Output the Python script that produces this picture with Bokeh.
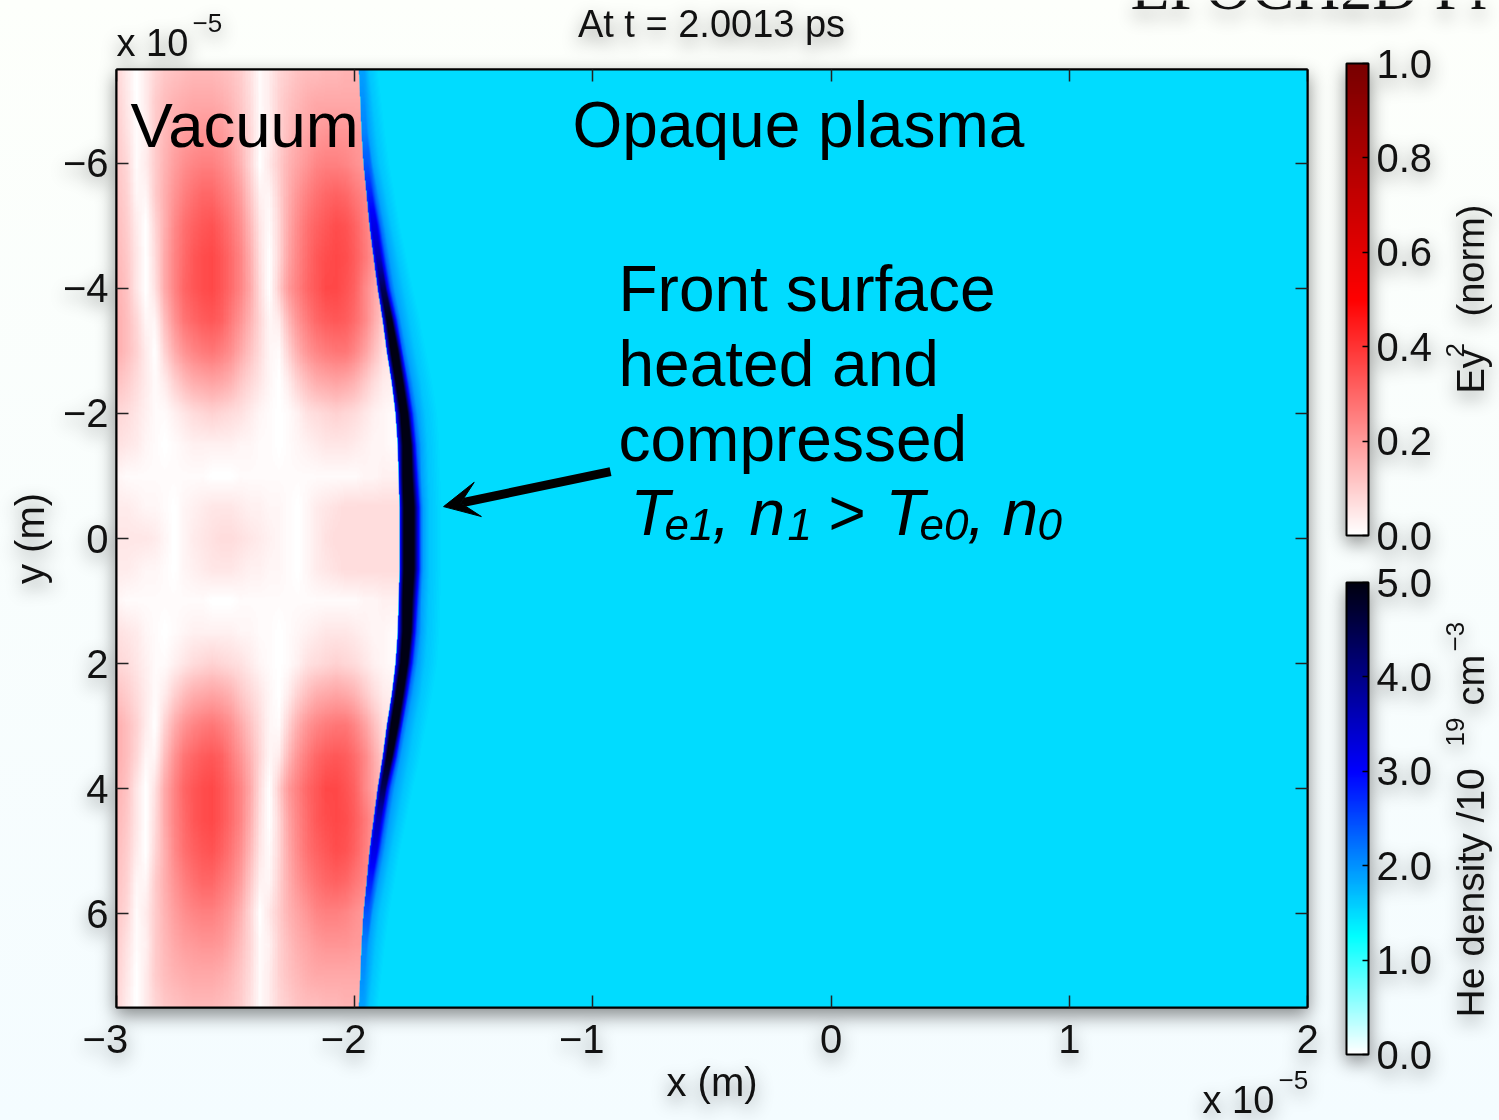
import numpy as np
from bokeh.plotting import figure
from bokeh.embed import file_html
from bokeh.resources import INLINE
from bokeh.core.properties import value
from bokeh.layouts import column
from bokeh.models import (Range1d, FixedTicker, LinearAxis, LinearColorMapper, ColorBar,
                          Arrow, VeeHead)

# ---- data (x in 1e-5 m, y in 1e-5 m) ----
x_ticks = [-3, -2, -1, 0, 1, 2]
y_ticks = [-6, -4, -2, 0, 2, 4, 6]
x_tick_labels = {-3: "\u22123\u2007", -2: "\u22122\u2007", -1: "\u22121\u2007", 0: "0", 1: "1", 2: "2"}
y_tick_labels = {-6: "\u22126", -4: "\u22124", -2: "\u22122", 0: "0", 2: "2", 4: "4", 6: "6"}

# Ey^2 (percent of norm), half field: rows y = -7.5 ... 0, step 0.5;
# columns x = -3.0 ... -1.8, step 0.04
ey2_top_half = [
    [8,4,0,4,8,11,12,13,14,14,14,13,12,10,6,1,4,8,10,12,13,13,14,14,15,15,15,15,15,15,15],
    [9,5,0,4,10,13,15,16,17,17,17,16,14,11,7,1,4,9,12,14,16,17,17,17,17,17,17,17,17,17,17],
    [10,6,1,3,10,14,17,19,20,21,21,20,17,13,8,1,3,9,13,16,18,20,21,21,21,20,20,20,20,20,20],
    [11,8,1,4,10,15,19,22,24,25,25,23,20,15,8,0,5,10,15,18,21,24,25,25,24,22,20,20,20,20,20],
    [12,9,2,2,10,16,21,25,28,30,30,27,24,19,11,3,2,9,16,21,25,28,30,31,30,27,24,20,18,18,18],
    [13,10,4,0,8,16,23,28,31,33,34,31,27,22,14,5,1,8,17,23,28,31,33,35,34,31,26,20,15,14,14],
    [14,11,5,0,7,17,24,29,33,35,36,33,29,24,16,6,0,8,18,24,29,33,35,36,35,32,27,21,14,12,12],
    [15,12,5,0,6,17,24,30,33,35,36,33,29,24,17,7,0,10,20,25,30,33,36,36,34,31,24,18,12,8,8],
    [16,13,8,2,2,13,21,27,30,32,33,31,26,21,15,8,2,4,14,21,26,30,32,33,32,29,24,17,10,6,6],
    [16,13,9,4,0,9,16,21,24,26,27,25,22,17,12,7,2,1,9,16,21,24,26,27,27,24,19,13,7,5,5],
    [12,10,7,4,1,4,9,13,16,17,18,17,15,11,8,5,2,0,4,9,13,16,17,18,17,15,11,7,4,3,3],
    [8,7,5,3,1,1,3,5,7,8,9,8,7,6,4,2,1,0,1,3,6,7,8,9,8,7,5,3,2,1,1],
    [6,5,4,2,1,0,1,2,3,3,3,3,3,2,2,1,1,0,1,2,3,4,5,5,5,4,3,2,2,1,1],
    [2,1,1,1,1,1,1,1,1,1,0,0,0,1,1,1,1,1,1,1,1,1,1,1,1,1,2,2,3,3,3],
    [4,4,3,2,2,1,0,2,3,4,5,5,5,4,3,3,2,2,1,0,2,4,5,6,7,7,7,7,7,7,7],
    [5,5,5,5,4,2,0,2,4,5,6,7,7,6,5,4,3,2,1,0,2,4,6,7,7,7,7,7,7,7,7],
]

# plasma front, half profile at y = -7.5 ... 0
front_y_half = [-7.5,-7,-6.5,-6,-5.5,-5,-4.5,-4,-3.5,-3,-2.5,-2,-1.5,-1,-0.5,0]
front_edge = [-1.982,-1.976,-1.971,-1.963,-1.950,-1.938,-1.921,-1.904,-1.883,-1.866,-1.845,-1.829,-1.820,-1.816,-1.812,-1.812]
# density profile behind the front: depth (1e-5 m) from the front edge at which the density
# reaches a given level, per row of front_y_half
front_peak     = [1.9,2.0,2.1,2.4,2.8,3.2,3.6,4.4,4.95,4.95,4.95,4.95,4.95,4.95,4.95,4.95]
depth_peak_in  = [.006,.006,.006,.008,.008,.010,.012,.014,.017,.017,.017,.021,.021,.017,.017,.017]
depth_peak_out = [.006,.006,.006,.010,.018,.025,.029,.032,.038,.046,.046,.050,.055,.055,.059,.059]
depth_32       = [.008,.010,.012,.016,.022,.030,.034,.040,.050,.059,.059,.063,.067,.071,.076,.076]
depth_23       = [.012,.015,.020,.028,.034,.046,.050,.055,.063,.067,.071,.076,.080,.084,.088,.088]
depth_19       = [.021,.025,.029,.038,.050,.063,.067,.071,.076,.084,.088,.092,.097,.097,.101,.101]
depth_165      = [.042,.050,.059,.067,.080,.092,.101,.109,.113,.118,.122,.126,.126,.126,.126,.126]
depth_plasma   = [.080,.090,.100,.110,.120,.130,.140,.150,.160,.170,.175,.180,.180,.180,.180,.180]
front_start_density = 2.6
plasma_density = 1.49

ey2_ticks = [0.0, 0.2, 0.4, 0.6, 0.8, 1.0]
he_ticks = [0.0, 1.0, 2.0, 3.0, 4.0, 5.0]
ey2_anchor_pos = [0, .5, 1]
ey2_anchor_rgb = [(255,255,255), (255,0,0), (120,0,0)]
he_anchor_pos = [0, 1.25, 3, 5]
he_anchor_rgb = [(255,255,255), (0,255,255), (0,0,255), (0,0,16)]


def palette(pos, rgb, n=256):
    t = np.linspace(pos[0], pos[-1], n)
    a = np.array(rgb, float)
    ch = [np.interp(t, pos, a[:, i]) for i in range(3)]
    return ["#%02x%02x%02x" % (int(r), int(g), int(b)) for r, g, b in zip(*ch)]


def shaded(grid, fy, fx):
    """Display-only interpolated shading of the read grid (the reference is drawn that way too)."""
    g = np.asarray(grid, float)
    ny, nx = g.shape
    yi, xi = np.linspace(0, ny - 1, (ny - 1) * fy + 1), np.linspace(0, nx - 1, (nx - 1) * fx + 1)
    g = np.array([np.interp(yi, np.arange(ny), g[:, j]) for j in range(nx)]).T
    return np.array([np.interp(xi, np.arange(nx), g[i, :]) for i in range(len(yi))])


W, H = 1499, 1120
FRAME_LEFT, FRAME_BOTTOM = 116, 1007
FONT = "Liberation Sans"
ey2_map = LinearColorMapper(palette=palette(ey2_anchor_pos, ey2_anchor_rgb), low=0, high=1)
he_map = LinearColorMapper(palette=palette(he_anchor_pos, he_anchor_rgb), low=0, high=5)
he_field_map = LinearColorMapper(palette=he_map.palette, low=0, high=5, nan_color=(0, 0, 0, 0))


def he_color(d):
    return he_map.palette[min(255, int(d / 5 * 256))]


p = figure(width=W, height=H, output_backend="svg", toolbar_location=None,
           x_range=Range1d(-3, 2), y_range=Range1d(7.5, -7.5), frame_align=False,
           min_border_left=FRAME_LEFT, min_border_right=W - 1307, min_border_top=69, min_border_bottom=H - FRAME_BOTTOM,
           x_axis_label="x (m)", y_axis_label="y (m)")
p.border_fill_color = None
p.background_fill_color = "white"
p.grid.visible = False
p.outline_line_color = "black"
p.outline_line_width = 2

for ax, ticks, labels in ((p.xaxis[0], x_ticks, x_tick_labels), (p.yaxis[0], y_ticks, y_tick_labels)):
    ax.ticker = FixedTicker(ticks=ticks)
    ax.major_label_overrides = labels
    ax.major_tick_in = 12
    ax.major_tick_out = 0
    ax.minor_tick_in = 0
    ax.minor_tick_out = 0
    ax.major_tick_line_width = 1.5
    ax.major_tick_line_color = "#222222"
    ax.axis_line_width = 2
    ax.major_label_text_font = FONT
    ax.major_label_text_font_size = "40px"
    ax.major_label_text_color = "#111111"
    ax.axis_label_text_font = FONT
    ax.axis_label_text_font_size = "40px"
    ax.axis_label_text_font_style = "normal"
    ax.axis_label_text_color = "#111111"
p.xaxis[0].major_label_standoff = 9
p.xaxis[0].axis_label_standoff = -4
p.yaxis[0].major_label_standoff = 8
p.yaxis[0].axis_label_standoff = 8

for side, ticks in (("above", x_ticks), ("right", y_ticks)):
    ax = LinearAxis(ticker=FixedTicker(ticks=ticks), major_label_overrides={t: "" for t in ticks},
                    major_tick_in=12, major_tick_out=0, minor_tick_in=0, minor_tick_out=0,
                    major_tick_line_width=1.5, major_tick_line_color="#222222",
                    axis_line_width=2, major_label_standoff=0)
    p.add_layout(ax, side)

# Ey^2 field
ey2 = np.array(ey2_top_half + ey2_top_half[-2::-1], float) / 100
p.image(image=[shaded(ey2, 16, 6)], x=-3.0, y=-7.5, dw=30 * .04, dh=30 * .5, color_mapper=ey2_map)


# He density field: plasma and compressed layer
def mirror(a):
    return np.array(a + a[-2::-1], float)


front_y = np.array(front_y_half + [-v for v in front_y_half[-2::-1]])
edge = mirror(front_edge)
p.harea(x1=edge, x2=[2] * len(edge), y=front_y, fill_color=he_color(plasma_density))

field_x = np.linspace(-2.0, -1.55, 216)
field_y = np.linspace(-7.5, 7.5, 939)
depths = np.array([mirror(a) for a in (depth_peak_in, depth_peak_out, depth_32, depth_23, depth_19, depth_165, depth_plasma)])
peak = mirror(front_peak)
field = np.full((len(field_y), len(field_x)), np.nan)
for i, yy in enumerate(field_y):
    e = np.interp(yy, front_y, edge)
    pk = np.interp(yy, front_y, peak)
    d = [np.interp(yy, front_y, row) for row in depths]
    knots = [0] + d
    levels = [min(front_start_density, pk), pk, pk, min(pk, 3.2), min(pk, 2.3), min(pk, 1.9), min(pk, 1.65), plasma_density]
    depth = field_x - e
    vals = np.interp(depth, knots, levels)
    vals[depth < 0] = np.nan
    field[i] = vals
p.image(image=[field], x=-2.0, y=-7.5, dw=.45, dh=15, color_mapper=he_field_map)

# arrow
p.add_layout(Arrow(x_start=-0.926, y_start=-1.07, x_end=-1.627, y_end=-0.51,
                   line_color="black", line_width=9,
                   end=VeeHead(size=35, fill_color="black", line_color="black", line_width=1)))

# colour bars
for mapper, ticks, loc in ((ey2_map, ey2_ticks, (1230, 472)), (he_map, he_ticks, (1230, -47))):
    cb = ColorBar(color_mapper=mapper, ticker=FixedTicker(ticks=ticks),
                  major_label_overrides={t: "%.1f" % t for t in ticks},
                  location=loc, width=22, height=472, padding=0, margin=0,
                  bar_line_color="black", bar_line_width=2,
                  major_tick_in=6, major_tick_out=0, major_tick_line_color="black", major_tick_line_width=1.5,
                  minor_tick_line_color=None, label_standoff=8,
                  major_label_text_font=FONT, major_label_text_font_size="40px",
                  major_label_text_color="#111111", background_fill_color=None, border_line_color=None)
    p.add_layout(cb, "center")

# text layer: a transparent figure over the whole page, in page pixels
ov = figure(width=W, height=H, output_backend="svg", toolbar_location=None,
            x_range=Range1d(0, W), y_range=Range1d(H, 0), min_border=0, frame_align=False,
            x_axis_location=None, y_axis_location=None,
            styles={"position": "absolute", "left": "0px", "top": "0px"})
ov.border_fill_color = None
ov.background_fill_color = None
ov.outline_line_color = None
ov.grid.visible = False

BASE = 0.385


def lab(text, px, py, size, angle=0, align="left", style="normal", font=FONT, color="#111111"):
    dx, dy = (-BASE * size, 0) if angle else (0, -BASE * size)
    ov.text(x=[px + dx], y=[py + dy], text=[text], text_font=value(font), text_font_size=value(f"{size}px"),
            text_font_style=style, text_color=color, text_align=align, text_baseline="alphabetic",
            angle=angle, angle_units="deg")


lab("EPOCH2D Pr", 1130, 12, 64, font="Liberation Serif")
lab("At t = 2.0013 ps", 711, 38, 38, align="center")
lab("x 10", 116, 57, 38)
lab("\u22125", 192, 33, 26)
lab("x 10", 1202, 1114, 38)
lab("\u22125", 1278, 1090, 26)
lab("Vacuum", 130, 149, 63.5, color="black")
lab("Opaque plasma", 572, 149, 64, color="black")
lab("Front surface", 618, 313, 64, color="black")
lab("heated and", 618, 388, 64, color="black")
lab("compressed", 618, 463, 64, color="black")
for txt, px, py, size in (("T", 630, 537, 64), ("e1", 664, 541, 44), (",", 712, 537, 64), ("n", 749, 537, 64),
                          ("1", 787, 541, 44), (">", 827, 537, 64), ("T", 885, 537, 64), ("e0", 919, 541, 44),
                          (",", 967, 537, 64), ("n", 1002, 537, 64), ("0", 1037, 541, 44)):
    lab(txt, px, py, size, style="italic", color="black")

lab("Ey", 1485, 393, 38, angle=90)
lab("2", 1465, 357, 26, angle=90)
lab("(norm)", 1485, 316, 38, angle=90)
lab("He density /10", 1485, 1017, 39, angle=90)
lab("19", 1465, 746, 26, angle=90)
lab("cm", 1485, 705, 38, angle=90)
lab("\u22123", 1465, 651, 26, angle=90)

root = column(p, ov)
html = file_html(root, INLINE)
css = ("<style>html{min-height:100%;background:linear-gradient(#fdfffb,#f4fcff);}"
       "body{filter:drop-shadow(0 7px 9px rgba(0,0,0,.45));}</style>")
html = html.replace("</head>", css + "</head>", 1)
open("out.html", "w").write(html)
